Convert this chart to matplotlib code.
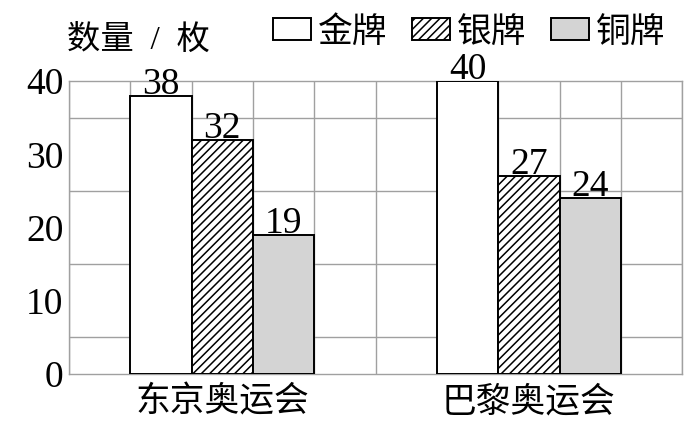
import matplotlib
matplotlib.use("Agg")
import matplotlib.pyplot as plt
from matplotlib.patches import Patch
import numpy as np

plt.rcParams['font.family'] = ['Liberation Serif', 'Noto Sans CJK SC']
plt.rcParams['hatch.linewidth'] = 1.1

games = ['东京奥运会', '巴黎奥运会']
medals = ['金牌', '银牌', '铜牌']
gold = [38, 40]
silver = [32, 27]
bronze = [19, 24]

colors = ['white', 'white', '#d4d4d4']
hatches = ['', '////', '']
grid_color = '#a0a0a0'

fig = plt.figure(figsize=(6.94, 4.25), dpi=100)
ax = fig.add_axes([0.0994, 0.12, 0.8836, 0.689])

# each game occupies 5 grid columns, bars fill the middle three
centers = np.array([2.5, 7.5])
for i, (vals, c, h) in enumerate(zip([gold, silver, bronze], colors, hatches)):
    xs = centers + (i - 1)
    ax.bar(xs, vals, width=1.0, color=c, hatch=h, edgecolor='black', linewidth=1.4, zorder=3)
    for x, v in zip(xs, vals):
        ax.annotate(str(v), (x, v), xytext=(0, 1.5), textcoords='offset points',
                    ha='center', va='baseline', fontsize=27, zorder=4)

ax.set_xlim(0, 10)
ax.set_ylim(0, 40)
ax.set_xticks(centers)
ax.set_xticklabels(games, fontsize=25)
ax.set_xticks(np.arange(0, 11), minor=True)
ax.set_yticks([0, 10, 20, 30, 40])
ax.set_yticks(np.arange(0, 41, 5), minor=True)
ax.tick_params(axis='both', which='both', length=0)
ax.tick_params(axis='y', labelsize=27, pad=4)
ax.tick_params(axis='x', pad=9)
ax.grid(which='minor', color=grid_color, linewidth=1.0)
ax.set_axisbelow(True)
for s in ax.spines.values():
    s.set_color(grid_color)
    s.set_linewidth(1.0)

fig.text(0.0965, 0.906, '数量  /  枚', fontsize=24, va='center', ha='left')

handles = [Patch(facecolor=c, edgecolor='black', hatch=h, linewidth=1.4) for c, h in zip(colors, hatches)]
fig.legend(handles, medals, loc='center left', bbox_to_anchor=(0.393, 0.922), ncol=3,
           frameon=False, fontsize=25, borderpad=0, borderaxespad=0,
           handlelength=1.1, handleheight=0.6, handletextpad=0.2, columnspacing=0.7)

fig.savefig('out.png', dpi=100)
